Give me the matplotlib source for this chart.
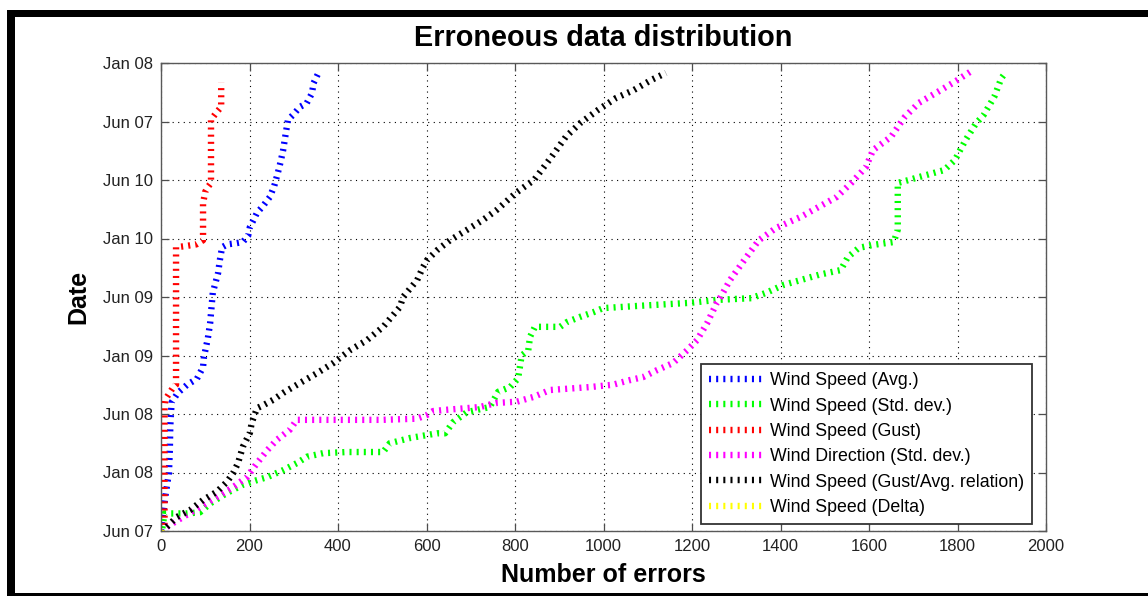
import matplotlib
matplotlib.use("Agg")
import matplotlib.pyplot as plt
from matplotlib.patches import Rectangle

plt.rcParams['font.family'] = ['Liberation Sans', 'DejaVu Sans']

# ---- data (x = number of errors, y = date index on axis) ----
avg_x = [0, 5, 10, 18, 20, 21, 24, 38, 59, 81, 88, 95, 97, 106, 111, 117, 129, 133, 138,
         150, 170, 185, 197, 201, 208, 217, 230, 246, 256, 264, 270, 276, 282, 287,
         298, 314, 329, 341, 345, 357]
avg_y = [0, 0.3, 0.6, 1.0, 1.4, 1.8, 2.2, 2.36, 2.5, 2.6, 2.7, 2.8, 2.97, 3.3, 3.55, 4.07,
         4.41, 4.63, 4.85, 4.9, 4.92, 4.94, 5.05, 5.2, 5.3, 5.44, 5.55, 5.71, 5.9, 6.12,
         6.3, 6.51, 6.8, 7.03, 7.11, 7.25, 7.31, 7.48, 7.66, 7.85]

std_x = [3, 8, 30, 60, 88, 111, 149, 185, 217, 240, 276, 307, 330, 366, 420, 502, 517,
         563, 624, 642, 660, 691, 743, 762, 789, 807, 811, 815, 830, 834, 845, 902, 917,
         947, 977, 999, 1083, 1195, 1256, 1334, 1367, 1408, 1446, 1487, 1536, 1552, 1577,
         1609, 1656, 1665, 1665, 1690, 1713, 1770, 1794, 1818, 1842, 1859, 1883, 1899, 1905]
std_y = [0.05, 0.3, 0.3, 0.3, 0.32, 0.47, 0.65, 0.79, 0.87, 0.92, 1.04, 1.16, 1.27, 1.33,
         1.35, 1.35, 1.5, 1.59, 1.67, 1.67, 1.86, 2.03, 2.12, 2.38, 2.46, 2.61, 2.8, 3.0,
         3.09, 3.32, 3.49, 3.49, 3.57, 3.66, 3.74, 3.81, 3.85, 3.9, 3.95, 3.98, 4.07, 4.21,
         4.29, 4.38, 4.46, 4.68, 4.84, 4.89, 4.94, 5.15, 5.95, 6.0, 6.05, 6.17, 6.34, 6.68,
         6.97, 7.11, 7.42, 7.74, 7.8]

gust_x = [0, 8, 8, 10, 27, 34, 34, 55, 80, 95, 95, 100, 106, 113, 113, 126, 136, 136]
gust_y = [0, 0.1, 2.1, 2.25, 2.45, 2.5, 4.85, 4.87, 4.9, 4.97, 5.6, 5.8, 5.88, 5.95, 7.03,
          7.16, 7.25, 7.66]

dir_x = [0, 13, 50, 88, 126, 163, 194, 217, 240, 262, 291, 307, 400, 500, 578, 600, 615,
         642, 691, 721, 759, 804, 841, 879, 969, 1021, 1060, 1089, 1121, 1157, 1189, 1211,
         1234, 1256, 1261, 1286, 1318, 1351, 1390, 1446, 1527, 1560, 1593, 1609, 1650,
         1681, 1713, 1763, 1794, 1835]
dir_y = [0, 0.07, 0.24, 0.41, 0.58, 0.75, 0.92, 1.16, 1.38, 1.56, 1.73, 1.9, 1.9, 1.9,
         1.92, 1.98, 2.05, 2.07, 2.1, 2.12, 2.19, 2.21, 2.29, 2.41, 2.46, 2.5, 2.58, 2.63,
         2.75, 2.87, 3.09, 3.26, 3.55, 3.9, 3.95, 4.29, 4.63, 4.97, 5.18, 5.37, 5.71, 5.95,
         6.22, 6.51, 6.74, 7.08, 7.32, 7.54, 7.68, 7.88]

rel_x = [0, 13, 36, 66, 95, 126, 149, 163, 174, 185, 201, 205, 217, 231, 253, 276, 314,
         353, 389, 427, 465, 502, 540, 547, 579, 592, 601, 624, 653, 692, 728, 759, 802,
         843, 882, 915, 947, 988, 1028, 1069, 1108, 1141]
rel_y = [0, 0.07, 0.24, 0.36, 0.53, 0.67, 0.84, 0.99, 1.16, 1.44, 1.68, 1.85, 2.1, 2.15,
         2.24, 2.36, 2.53, 2.7, 2.87, 3.09, 3.26, 3.49, 3.83, 4.0, 4.29, 4.51, 4.63, 4.8,
         4.97, 5.15, 5.32, 5.49, 5.78, 6.0, 6.39, 6.74, 6.97, 7.2, 7.4, 7.54, 7.71, 7.83]

delta_x = [0, 2, 4]
delta_y = [0, 0.02, 0.05]

labels = ['Wind Speed (Avg.)', 'Wind Speed (Std. dev.)', 'Wind Speed (Gust)',
          'Wind Direction (Std. dev.)', 'Wind Speed (Gust/Avg. relation)', 'Wind Speed (Delta)']
colors = ['#0000ff', '#00ff00', '#ff0000', '#ff00ff', '#000000', '#ffff00']

ytick_labels = ['Jun 07', 'Jan 08', 'Jun 08', 'Jan 09', 'Jun 09', 'Jan 10', 'Jun 10',
                'Jun 07', 'Jan 08']
xticks = list(range(0, 2001, 200))

W, H = 1148, 596
fig = plt.figure(figsize=(W / 100, H / 100), dpi=100)
ax = fig.add_axes([161 / W, 1 - 531 / H, 885 / W, 468 / H])

series = [(avg_x, avg_y), (std_x, std_y), (gust_x, gust_y), (dir_x, dir_y),
          (rel_x, rel_y), (delta_x, delta_y)]
dot = (0, (0.32, 0.8))
for (xs, ys), c, lab in zip(series, colors, labels):
    ax.plot(xs, ys, color=c, lw=4.6, ls=dot, dash_capstyle='butt', label=lab)

ax.set_xlim(0, 2000)
ax.set_ylim(0, 8)
ax.set_xticks(xticks)
ax.set_yticks(range(len(ytick_labels)))
ax.set_yticklabels(ytick_labels)
ax.grid(True, color='k', lw=0.8, ls=(0, (1, 4)))
ax.tick_params(direction='in', length=6, width=0.9, color='0.3', top=True, right=True,
               labelsize=12, pad=6, labelcolor='#222222')
for s in ax.spines.values():
    s.set_color('0.35')
    s.set_linewidth(1.0)

ax.set_title('Erroneous data distribution', fontsize=20.8, fontweight='bold', pad=12)
ax.set_xlabel('Number of errors', fontsize=18, fontweight='bold', labelpad=6)
ax.set_ylabel('Date', fontsize=18, fontweight='bold', labelpad=9)

leg = ax.legend(loc='lower right', bbox_to_anchor=(0.984, 0.015), frameon=True,
                fancybox=False, edgecolor='0.2', framealpha=1, fontsize=12.8,
                handlelength=3.15, handletextpad=0.28, borderpad=0.45, labelspacing=0.47,
                borderaxespad=0)
leg.get_frame().set_linewidth(1.3)

# figure frame (black bars)
fig.add_artist(Rectangle((7 / W, 1 - 17 / H), 1, 7 / H, transform=fig.transFigure,
                         color='k', lw=0))
fig.add_artist(Rectangle((7 / W, 0), 8 / W, 1 - 10 / H, transform=fig.transFigure,
                         color='k', lw=0))
fig.add_artist(Rectangle((7 / W, 0), 1, 3 / H, transform=fig.transFigure,
                         color='k', lw=0))

fig.savefig('out.png', dpi=100)
